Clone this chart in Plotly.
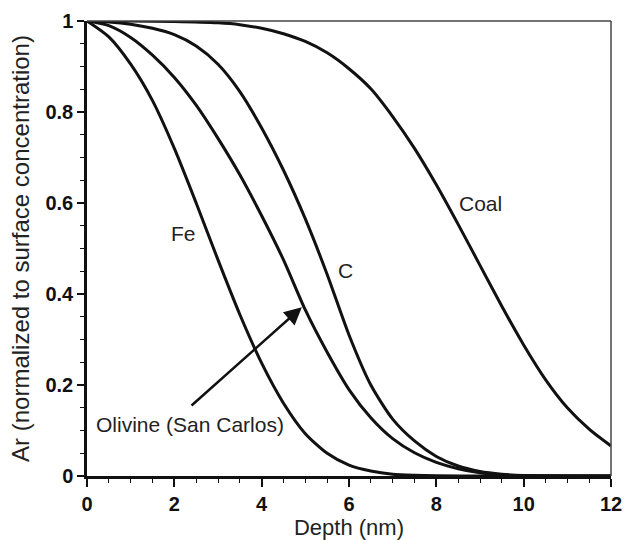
import plotly.graph_objects as go

# Depth (nm) and normalized Ar values
fe_x = [0, 0.5, 1.0, 1.5, 2.0, 2.5, 3.0, 3.5, 4.0, 4.5, 5.0, 5.5, 6.0, 6.5, 7.0, 7.5, 8.0, 9.0, 12]
fe_y = [1, 0.965, 0.905, 0.825, 0.72, 0.60, 0.475, 0.355, 0.248, 0.16, 0.093, 0.050, 0.024, 0.011, 0.004, 0.0015, 0.0003, 0, 0]

olivine_x = [0, 0.5, 1.0, 1.5, 2.0, 2.5, 3.0, 3.5, 4.0, 4.5, 5.0, 5.5, 6.0, 6.5, 7.0, 7.5, 8.0, 8.5, 9.0, 9.5, 10, 12]
olivine_y = [1, 0.99, 0.964, 0.925, 0.876, 0.815, 0.742, 0.662, 0.572, 0.475, 0.365, 0.272, 0.19, 0.128, 0.082, 0.051, 0.030, 0.016, 0.007, 0.002, 0.0005, 0]

c_x = [0, 0.5, 1.0, 1.5, 2.0, 2.5, 3.0, 3.5, 4.0, 4.5, 5.0, 5.5, 6.0, 6.5, 7.0, 7.5, 8.0, 8.5, 9.0, 9.5, 10, 12]
c_y = [1, 0.998, 0.993, 0.984, 0.97, 0.945, 0.905, 0.845, 0.765, 0.672, 0.565, 0.443, 0.31, 0.20, 0.125, 0.077, 0.043, 0.022, 0.010, 0.004, 0.001, 0]

coal_x = [0, 1, 2, 3, 3.5, 4, 4.5, 5, 5.5, 6, 6.5, 7, 7.5, 8, 8.5, 9, 9.5, 10, 10.5, 11, 11.5, 12]
coal_y = [1, 1, 0.999, 0.996, 0.992, 0.984, 0.972, 0.955, 0.93, 0.895, 0.851, 0.79, 0.72, 0.64, 0.553, 0.463, 0.373, 0.288, 0.212, 0.15, 0.103, 0.066]

labels = ["Fe", "C", "Coal", "Olivine (San Carlos)"]
label_x = [2.22, 5.93, 9.02, 2.36]
label_y = [0.533, 0.452, 0.60, 0.114]

arrow_tail = (2.36, 0.152)
arrow_head = (4.92, 0.371)

x_range = [0, 12]
y_range = [0, 1]
x_major_step, x_minor_step = 2, 0.5
y_major_step, y_minor_step = 0.2, 0.05

font_family = "Liberation Sans, Arial, Helvetica, sans-serif"
ink = "#111111"

fig = go.Figure()
line_style = dict(color=ink, width=3, shape="spline", smoothing=0.7)
for xs, ys in [(fe_x, fe_y), (olivine_x, olivine_y), (c_x, c_y), (coal_x, coal_y)]:
    fig.add_trace(go.Scatter(x=xs, y=ys, mode="lines", line=line_style,
                             showlegend=False, hoverinfo="skip"))

for t, xv, yv in zip(labels, label_x, label_y):
    fig.add_annotation(x=xv, y=yv, text=t, showarrow=False,
                       font=dict(family=font_family, size=21, color="#222222"))

fig.add_annotation(x=arrow_head[0], y=arrow_head[1], ax=arrow_tail[0], ay=arrow_tail[1],
                   xref="x", yref="y", axref="x", ayref="y", text="",
                   showarrow=True, arrowhead=2, arrowsize=1.4, arrowwidth=2.5,
                   arrowcolor=ink, standoff=0)

# thin frame on top and right
fig.add_shape(type="line", xref="paper", yref="paper", x0=0, x1=1, y0=1, y1=1,
              line=dict(color="#444444", width=1.5))
fig.add_shape(type="line", xref="paper", yref="paper", x0=1, x1=1, y0=0, y1=1,
              line=dict(color="#444444", width=1.5))

tick_font = dict(family=font_family, size=20, color=ink, weight="bold")

fig.update_layout(
    template="none",
    width=625, height=540,
    margin=dict(l=87, r=14, t=21, b=64),
    paper_bgcolor="white", plot_bgcolor="white",
    font=dict(family=font_family, color=ink),
    showlegend=False,
    xaxis=dict(
        range=x_range, tickmode="linear", tick0=0, dtick=x_major_step,
        showgrid=False, zeroline=False, automargin=False,
        showline=True, linecolor=ink, linewidth=2.5, mirror=False,
        ticks="outside", ticklen=8, tickwidth=2, tickcolor=ink,
        minor=dict(tickmode="linear", tick0=0, dtick=x_minor_step, ticks="outside",
                   ticklen=4, tickwidth=1.3, tickcolor=ink, showgrid=False),
        tickfont=tick_font,
        title=dict(text="Depth (nm)", font=dict(family=font_family, size=22, color="#222222"), standoff=7),
    ),
    yaxis=dict(
        range=y_range, tickmode="linear", tick0=0, dtick=y_major_step,
        showgrid=False, zeroline=False, automargin=False,
        showline=True, linecolor=ink, linewidth=2.5, mirror=False,
        ticks="outside", ticklen=7, tickwidth=2, tickcolor=ink,
        minor=dict(tickmode="linear", tick0=0, dtick=y_minor_step, ticks="outside",
                   ticklen=4, tickwidth=1.3, tickcolor=ink, showgrid=False),
        tickfont=tick_font,
        title=dict(text="Ar (normalized to surface concentration)",
                   font=dict(family=font_family, size=24, color="#222222"), standoff=10),
    ),
)

fig.write_html("out.html")
